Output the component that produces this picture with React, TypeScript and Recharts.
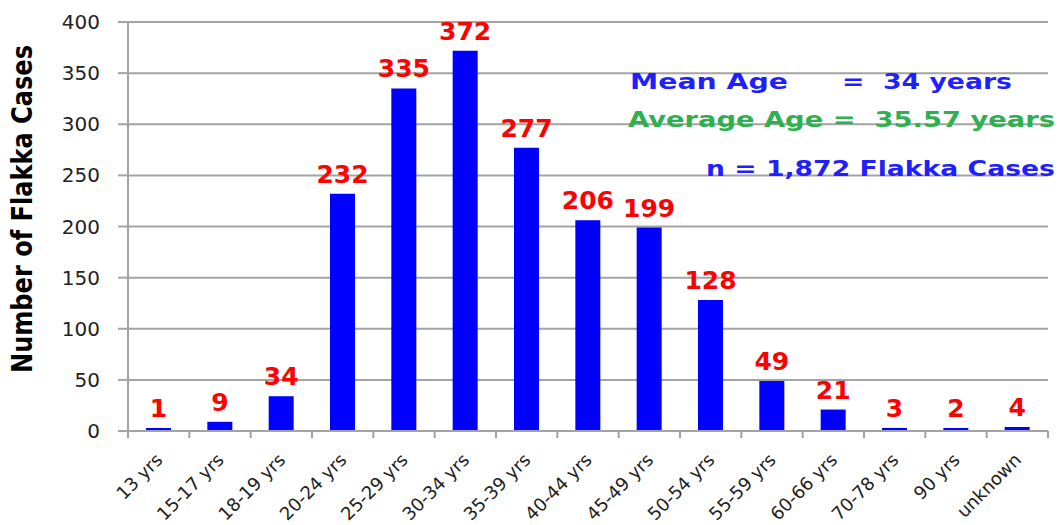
import { Bar, BarChart, CartesianGrid, Customized, LabelList, XAxis, YAxis } from "recharts";

const ageGroups = [
  "13 yrs",
  "15-17 yrs",
  "18-19 yrs",
  "20-24 yrs",
  "25-29 yrs",
  "30-34 yrs",
  "35-39 yrs",
  "40-44 yrs",
  "45-49 yrs",
  "50-54 yrs",
  "55-59 yrs",
  "60-66 yrs",
  "70-78 yrs",
  "90 yrs",
  "unknown",
];
const flakkaCases = [1, 9, 34, 232, 335, 372, 277, 206, 199, 128, 49, 21, 3, 2, 4];
const yTicks = [0, 50, 100, 150, 200, 250, 300, 350, 400];

const W = 1061;
const H = 525;
const M = { top: 22, right: 13, left: 28, bottom: 0 };
const Y_AXIS_W = 100;
const PLOT_W = W - M.left - M.right - Y_AXIS_W;
const BAND = PLOT_W / ageGroups.length;

const GRID = "#a3a3a3";
const BLUE = "#0000ff";
const TEXT_BLUE = "#1f1fff";
const GREEN = "#2eb04f";
const FONT = "'DejaVu Sans', sans-serif";

const data = ageGroups.map((age, i) => ({ age, cases: flakkaCases[i] }));

// excel style: tick marks sit between categories, labels slanted under the center
function XTick(props: any) {
  const { x, y, payload, index } = props;
  const last = index === ageGroups.length - 1;
  return (
    <g>
      <line x1={x - BAND / 2} x2={x - BAND / 2} y1={y} y2={y + 7} stroke={GRID} strokeWidth={2} />
      {last && <line x1={x + BAND / 2} x2={x + BAND / 2} y1={y} y2={y + 7} stroke={GRID} strokeWidth={2} />}
      <text
        x={x + 5}
        y={y + 30}
        transform={`rotate(-45 ${x + 5} ${y + 30})`}
        textAnchor="end"
        fontFamily={FONT}
        fontSize={18}
        fill="#222"
      >
        {payload.value}
      </text>
    </g>
  );
}

function Notes() {
  return (
    <g fontFamily={FONT} fontWeight="bold" fontSize={22}>
      <text
        x={32}
        y={209}
        transform="rotate(-90 32 209)"
        textAnchor="middle"
        fontSize={28}
        fill="#000"
        textLength={328}
        lengthAdjust="spacingAndGlyphs"
      >
        Number of Flakka Cases
      </text>
      <text x={630} y={89} fill={TEXT_BLUE} textLength={158} lengthAdjust="spacingAndGlyphs">
        Mean Age
      </text>
      <text
        x={842}
        y={89}
        fill={TEXT_BLUE}
        textLength={170}
        lengthAdjust="spacingAndGlyphs"
        style={{ whiteSpace: "pre" }}
      >
        {"=  34 years"}
      </text>
      <text
        x={628}
        y={127}
        fill={GREEN}
        textLength={427}
        lengthAdjust="spacingAndGlyphs"
        style={{ whiteSpace: "pre" }}
      >
        {"Average Age =  35.57 years"}
      </text>
      <text x={706} y={176} fill={TEXT_BLUE} textLength={349} lengthAdjust="spacingAndGlyphs">
        n = 1,872 Flakka Cases
      </text>
    </g>
  );
}

export default function App() {
  return (
    <div style={{ position: "absolute", left: 0, top: 0, width: W, height: H, background: "#fff" }}>
      <BarChart width={W} height={H} data={data} margin={M} barSize={25}>
        <CartesianGrid vertical={false} stroke={GRID} strokeWidth={2} />
        <XAxis
          dataKey="age"
          interval={0}
          height={94}
          tickSize={0}
          tickMargin={0}
          tickLine={false}
          axisLine={{ stroke: GRID, strokeWidth: 2 }}
          tick={<XTick />}
        />
        <YAxis
          width={Y_AXIS_W}
          domain={[0, 400]}
          ticks={yTicks}
          interval={0}
          tickSize={10}
          tickMargin={18}
          tickLine={{ stroke: GRID, strokeWidth: 2 }}
          axisLine={{ stroke: GRID, strokeWidth: 2 }}
          tick={{ fontFamily: FONT, fontSize: 20, fill: "#222" }}
        />
        <Bar dataKey="cases" fill={BLUE} minPointSize={3} isAnimationActive={false}>
          <LabelList
            dataKey="cases"
            position="top"
            offset={11}
            fill="#ff0000"
            fontFamily={FONT}
            fontWeight="bold"
            fontSize={25}
          />
        </Bar>
        <Customized component={Notes} />
      </BarChart>
    </div>
  );
}
